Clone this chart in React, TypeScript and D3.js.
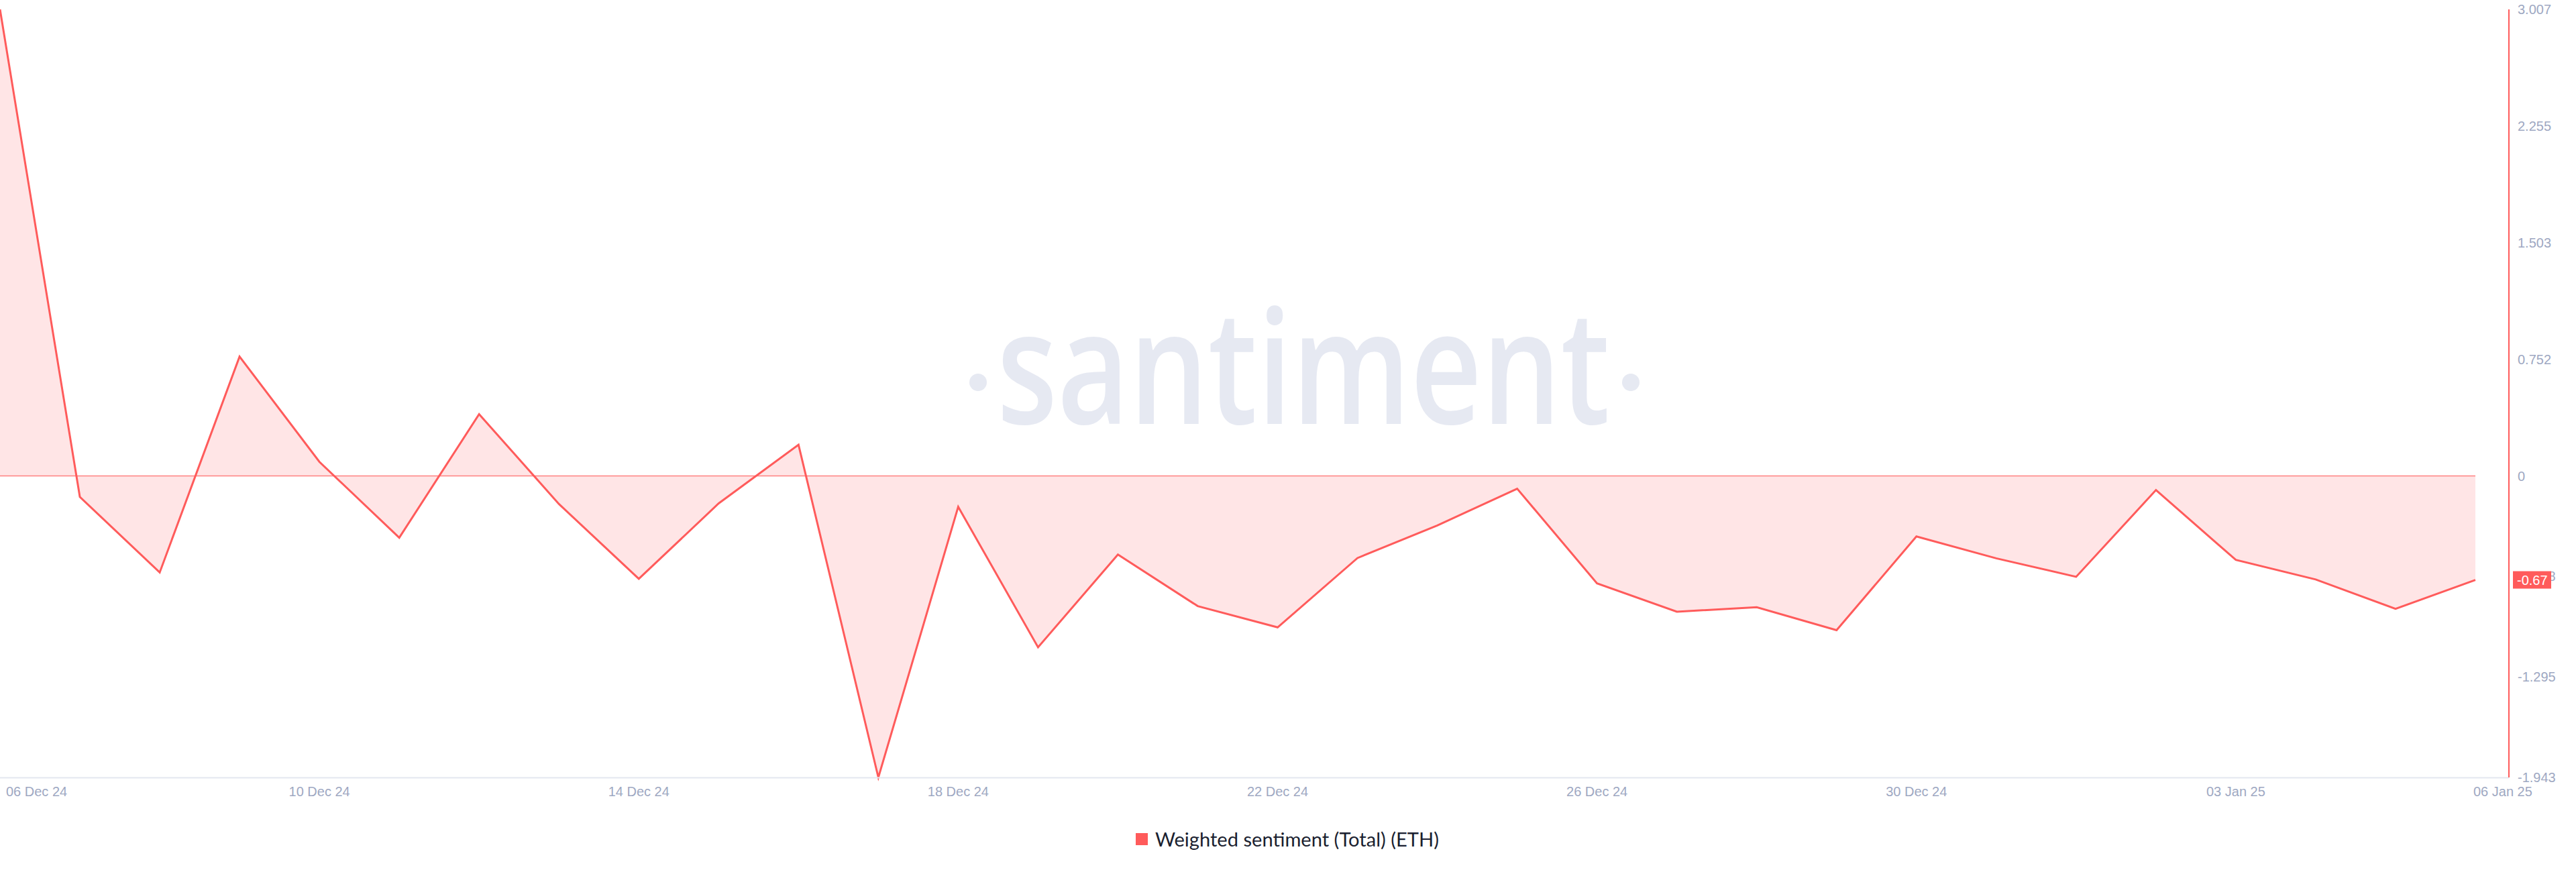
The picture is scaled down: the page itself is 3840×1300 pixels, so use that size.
import React from "react";
import * as d3 from "d3";

// Daily weighted sentiment (Total) for ETH, 06 Dec 2024 – 06 Jan 2025
const startDate = "2024-12-06";
const sentimentValues = [
  3.007, -0.135, -0.622, 0.769, 0.091, -0.398, 0.398, -0.181, -0.663, -0.177,
  0.201, -1.943, -0.199, -1.104, -0.507, -0.839, -0.976, -0.529, -0.319, -0.082,
  -0.692, -0.875, -0.846, -0.994, -0.39, -0.531, -0.65, -0.091, -0.541, -0.667,
  -0.856, -0.67,
];
const yTickValues = [3.007, 2.255, 1.503, 0.752, 0, -0.648, -1.295, -1.943];
const xTickDates = [
  "2024-12-06", "2024-12-10", "2024-12-14", "2024-12-18", "2024-12-22",
  "2024-12-26", "2024-12-30", "2025-01-03", "2025-01-06",
];
const seriesLabel = "Weighted sentiment (Total) (ETH)";
const lastValueLabel = "-0.67";

const W = 3840;
const H = 1300;
const RED = "#ff5b5b";
const AXIS_TEXT = "#9ea8c2";

export default function App() {
  const parse = d3.utcParse("%Y-%m-%d");
  const start = parse(startDate) as Date;
  const data = sentimentValues.map((v, i) => ({
    date: d3.utcDay.offset(start, i),
    value: v,
  }));
  const last = data[data.length - 1];

  const x = d3
    .scaleUtc()
    .domain([data[0].date, last.date])
    .range([0, 3690]);
  const y = d3.scaleLinear().domain([-1.943, 3.007]).range([1159, 14]);

  const axisX = 3740;

  const area = d3
    .area<{ date: Date; value: number }>()
    .x((d) => x(d.date))
    .y0(y(0))
    .y1((d) => y(d.value));
  const line = d3
    .line<{ date: Date; value: number }>()
    .x((d) => x(d.date))
    .y((d) => y(d.value));

  const fmt = d3.utcFormat("%d %b %y");
  const ticks = xTickDates.map((s) => parse(s) as Date);

  return (
    <svg
      width={W}
      height={H}
      style={{ position: "absolute", left: 0, top: 0, background: "#fff" }}
      fontFamily="'Liberation Sans', Arial, sans-serif"
    >
      {/* watermark */}
      <g fill="#e6e9f2">
        <circle cx={1458} cy={570} r={13} />
        <circle cx={2431} cy={570} r={13} />
        <text
          x={1486}
          y={632}
          fontFamily="'Open Sans', sans-serif"
          fontWeight={600}
          fontSize={236}
          textLength={914}
          lengthAdjust="spacingAndGlyphs"
        >
          santiment
        </text>
      </g>

      {/* area and line */}
      <path d={area(data) || ""} fill="#ffe5e6" />
      <line
        x1={x(data[0].date)}
        x2={x(last.date)}
        y1={y(0)}
        y2={y(0)}
        stroke={RED}
        strokeOpacity={0.75}
        strokeWidth={1.5}
      />
      <path
        d={line(data) || ""}
        fill="none"
        stroke={RED}
        strokeWidth={3}
        strokeLinejoin="miter"
      />

      {/* bottom axis */}
      <line x1={0} x2={axisX} y1={1159.5} y2={1159.5} stroke="#e3e7f0" strokeWidth={2} />
      {ticks.map((t, i) => {
        const isFirst = i === 0;
        const isLast = i === ticks.length - 1;
        const tx = isFirst ? 9 : isLast ? x(t) - 3 : x(t);
        return (
          <text
            key={i}
            x={tx}
            y={1180}
            fontSize={20}
            fill={AXIS_TEXT}
            textAnchor={isFirst || isLast ? "start" : "middle"}
            dominantBaseline="central"
          >
            {fmt(t)}
          </text>
        );
      })}

      {/* right axis */}
      <line x1={axisX} x2={axisX} y1={14} y2={1159} stroke={RED} strokeWidth={2} />
      {yTickValues.map((v, i) => (
        <text
          key={i}
          x={3753}
          y={y(v)}
          fontSize={20}
          fill={AXIS_TEXT}
          dominantBaseline="central"
        >
          {String(v)}
        </text>
      ))}
      <rect x={3746} y={y(last.value) - 13} width={57} height={26} fill={RED} />
      <text
        x={3752}
        y={y(last.value)}
        fontSize={20}
        fill="#fff"
        dominantBaseline="central"
      >
        {lastValueLabel}
      </text>

      {/* legend */}
      <rect x={1693} y={1242} width={18} height={18} fill={RED} />
      <text
        x={1722}
        y={1251}
        fontSize={28}
        fill="#1b1f30"
        fontFamily="Lato, 'Noto Sans', sans-serif"
        dominantBaseline="central"
        textLength={423}
        lengthAdjust="spacingAndGlyphs"
      >
        {seriesLabel}
      </text>
    </svg>
  );
}
